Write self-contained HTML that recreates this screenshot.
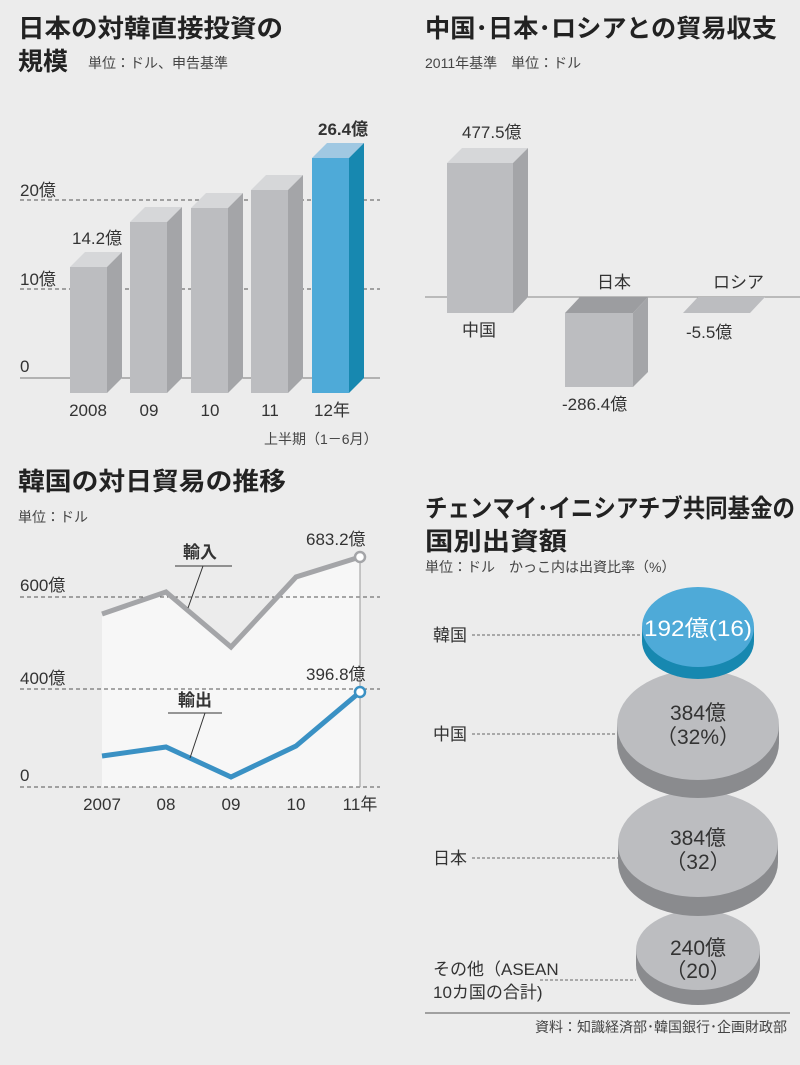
<!DOCTYPE html>
<html><head><meta charset="utf-8"><style>
body{margin:0;background:#ececec}
svg{display:block}
text{font-family:"Liberation Sans","Noto Sans CJK JP",sans-serif;fill:#333}
.t{font-size:25px;font-weight:bold;fill:#222}
.s{font-size:14px;fill:#444}
.l{font-size:17px}
</style></head><body>
<svg width="800" height="1065" viewBox="0 0 800 1065">
<rect width="800" height="1065" fill="#ececec"/>
<!-- Chart 1 -->
<text x="18" y="37" class="t" textLength="265" lengthAdjust="spacingAndGlyphs">日本の対韓直接投資の</text>
<text x="18" y="70" class="t">規模</text>
<text x="88" y="68" class="s">単位：ドル、申告基準</text>
<line x1="20" y1="200" x2="380" y2="200" stroke="#555" stroke-dasharray="4,3"/>
<line x1="20" y1="289" x2="380" y2="289" stroke="#555" stroke-dasharray="4,3"/>
<line x1="20" y1="378" x2="380" y2="378" stroke="#777"/>
<text x="20" y="196" class="l">20億</text>
<text x="20" y="285" class="l">10億</text>
<text x="20" y="372" class="l">0</text>
<g>
<polygon points="70,267 85,252 122,252 107,267" fill="#d6d7d9"/><polygon points="107,267 122,252 122,378 107,393" fill="#a4a5a8"/><rect x="70" y="267" width="37" height="126" fill="#bcbdc0"/>
<polygon points="130,222 145,207 182,207 167,222" fill="#d6d7d9"/><polygon points="167,222 182,207 182,378 167,393" fill="#a4a5a8"/><rect x="130" y="222" width="37" height="171" fill="#bcbdc0"/>
<polygon points="191,208 206,193 243,193 228,208" fill="#d6d7d9"/><polygon points="228,208 243,193 243,378 228,393" fill="#a4a5a8"/><rect x="191" y="208" width="37" height="185" fill="#bcbdc0"/>
<polygon points="251,190 266,175 303,175 288,190" fill="#d6d7d9"/><polygon points="288,190 303,175 303,378 288,393" fill="#a4a5a8"/><rect x="251" y="190" width="37" height="203" fill="#bcbdc0"/>
<polygon points="312,158 327,143 364,143 349,158" fill="#a0c8e2"/><polygon points="349,158 364,143 364,378 349,393" fill="#1788b0"/><rect x="312" y="158" width="37" height="235" fill="#4eaad8"/>
</g>
<text x="72" y="244" class="l">14.2億</text>
<text x="318" y="135" class="l" font-weight="bold">26.4億</text>
<g class="l" text-anchor="middle" font-size="17">
<text x="88" y="416">2008</text><text x="149" y="416">09</text><text x="210" y="416">10</text><text x="270" y="416">11</text><text x="332" y="416">12年</text></g>
<text x="264" y="444" class="s">上半期（1－6月）</text>

<!-- Chart 2 -->
<text x="425" y="37" class="t" textLength="352" lengthAdjust="spacingAndGlyphs">中国･日本･ロシアとの貿易収支</text>
<text x="425" y="68" class="s">2011年基準　単位：ドル</text>
<line x1="425" y1="297" x2="800" y2="297" stroke="#888"/>
<polygon points="447,163 462,148 528,148 513,163" fill="#d6d7d9"/>
<polygon points="513,163 528,148 528,297 513,313" fill="#a4a5a8"/>
<rect x="447" y="163" width="66" height="150" fill="#bcbdc0"/>
<polygon points="565,313 580,297 648,297 633,313" fill="#9c9da0"/>
<polygon points="633,313 648,297 648,372 633,387" fill="#a4a5a8"/>
<rect x="565" y="313" width="68" height="74" fill="#bcbdc0"/>
<polygon points="683,313 698,297 765,297 750,313" fill="#bcbdc0"/>
<text x="462" y="138" class="l">477.5億</text>
<text x="462" y="336" class="l">中国</text>
<text x="597" y="288" class="l">日本</text>
<text x="713" y="288" class="l">ロシア</text>
<text x="686" y="338" class="l">-5.5億</text>
<text x="562" y="410" class="l">-286.4億</text>

<!-- Chart 3 -->
<text x="18" y="490" class="t" textLength="268" lengthAdjust="spacingAndGlyphs">韓国の対日貿易の推移</text>
<text x="18" y="522" class="s">単位：ドル</text>
<polygon points="102,614 166,592 231,647 296,577 360,557 360,787 102,787" fill="#f7f7f7"/>
<line x1="20" y1="597" x2="380" y2="597" stroke="#555" stroke-dasharray="4,3"/>
<line x1="20" y1="689" x2="380" y2="689" stroke="#555" stroke-dasharray="4,3"/>
<line x1="20" y1="787" x2="380" y2="787" stroke="#555" stroke-dasharray="4,3"/>
<line x1="360" y1="557" x2="360" y2="787" stroke="#999"/>
<text x="20" y="591" class="l">600億</text>
<text x="20" y="684" class="l">400億</text>
<text x="20" y="781" class="l">0</text>
<polyline points="102,614 166,592 231,647 296,577 360,557" fill="none" stroke="#a4a5a8" stroke-width="5"/>
<polyline points="102,756 166,747 231,777 296,746 360,692" fill="none" stroke="#3a91c4" stroke-width="5"/>
<circle cx="360" cy="557" r="5" fill="#fff" stroke="#a4a5a8" stroke-width="2.5"/>
<circle cx="360" cy="692" r="5" fill="#fff" stroke="#3a91c4" stroke-width="2.5"/>
<text x="306" y="545" class="l">683.2億</text>
<text x="306" y="680" class="l">396.8億</text>
<text x="183" y="558" class="l" font-weight="bold">輸入</text>
<polyline points="175,566 232,566" stroke="#333" fill="none"/>
<line x1="203" y1="566" x2="188" y2="608" stroke="#333"/>
<text x="178" y="706" class="l" font-weight="bold">輸出</text>
<polyline points="168,713 222,713" stroke="#333" fill="none"/>
<line x1="205" y1="713" x2="190" y2="758" stroke="#333"/>
<g class="l" text-anchor="middle">
<text x="102" y="810">2007</text><text x="166" y="810">08</text><text x="231" y="810">09</text><text x="296" y="810">10</text><text x="360" y="810">11年</text></g>

<!-- Chart 4 -->
<text x="425" y="517" class="t" textLength="370" lengthAdjust="spacingAndGlyphs">チェンマイ･イニシアチブ共同基金の</text>
<text x="425" y="550" class="t" textLength="142" lengthAdjust="spacingAndGlyphs">国別出資額</text>
<text x="425" y="572" class="s">単位：ドル　かっこ内は出資比率（%）</text>
<g stroke="#666" stroke-dasharray="3,2">
<line x1="472" y1="635" x2="642" y2="635"/>
<line x1="472" y1="734" x2="617" y2="734"/>
<line x1="472" y1="858" x2="620" y2="858"/>
<line x1="540" y1="980" x2="636" y2="980"/>
</g>
<text x="433" y="641" class="l">韓国</text>
<text x="433" y="740" class="l">中国</text>
<text x="433" y="864" class="l">日本</text>
<text x="433" y="975" class="l">その他（ASEAN</text>
<text x="433" y="998" class="l">10カ国の合計)</text>
<ellipse cx="698" cy="965" rx="62" ry="40" fill="#8a8b8e"/>
<rect x="636" y="950" width="124" height="15" fill="#8a8b8e"/>
<ellipse cx="698" cy="950" rx="62" ry="40" fill="#bcbdc0"/>
<ellipse cx="698" cy="862" rx="80" ry="54" fill="#8a8b8e"/>
<rect x="618" y="844" width="160" height="18" fill="#8a8b8e"/>
<ellipse cx="698" cy="844" rx="80" ry="53" fill="#bcbdc0"/>
<ellipse cx="698" cy="743" rx="81" ry="55" fill="#8a8b8e"/>
<rect x="617" y="725" width="162" height="18" fill="#8a8b8e"/>
<ellipse cx="698" cy="725" rx="81" ry="55" fill="#bcbdc0"/>
<ellipse cx="698" cy="641" rx="56" ry="38" fill="#1788b0"/>
<rect x="642" y="627" width="112" height="14" fill="#1788b0"/>
<ellipse cx="698" cy="627" rx="56" ry="40" fill="#4eaad8"/>
<g text-anchor="middle">
<text x="698" y="636" style="fill:#fff;font-size:22px" textLength="108" lengthAdjust="spacingAndGlyphs">192億(16)</text>
<text x="698" y="720" style="font-size:21px">384億</text>
<text x="698" y="744" style="font-size:21px">（32%）</text>
<text x="698" y="845" style="font-size:21px">384億</text>
<text x="698" y="869" style="font-size:21px">（32）</text>
<text x="698" y="955" style="font-size:21px">240億</text>
<text x="698" y="978" style="font-size:21px">（20）</text>
</g>
<line x1="425" y1="1013" x2="790" y2="1013" stroke="#555"/>
<text x="787" y="1032" class="s" text-anchor="end">資料：知識経済部･韓国銀行･企画財政部</text>
</svg>
</body></html>
